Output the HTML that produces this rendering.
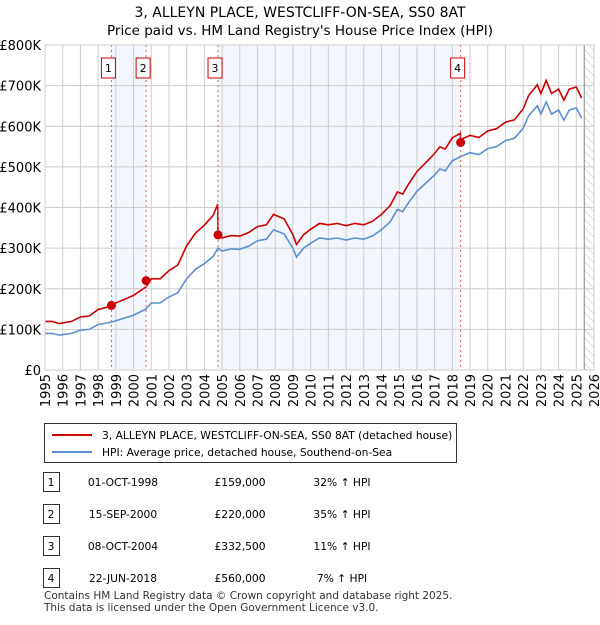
<!DOCTYPE html>
<html><head><meta charset="utf-8"><style>
body{margin:0;background:#fff;font-family:"Liberation Sans","DejaVu Sans",sans-serif;}
svg text{font-family:"DejaVu Sans","Liberation Sans",sans-serif;}
</style></head><body>
<svg id="c" width="600" height="620" xmlns="http://www.w3.org/2000/svg">
<defs><pattern id="hatch" width="6" height="6" patternUnits="userSpaceOnUse" patternTransform="rotate(-45)"><line x1="0" y1="0" x2="0" y2="6" stroke="#bbb" stroke-width="1"/></pattern></defs>
<text x="300" y="17" text-anchor="middle" font-size="14">3, ALLEYN PLACE, WESTCLIFF-ON-SEA, SS0 8AT</text>
<text x="300" y="35" text-anchor="middle" font-size="13.5">Price paid vs. HM Land Registry's House Price Index (HPI)</text>
<g id="plot"></g>
<g>
<rect x="44.5" y="423.5" width="412" height="39" fill="#fff" stroke="#333"/>
<line x1="52" y1="435" x2="92" y2="435" stroke="#cc0000" stroke-width="2"/>
<text x="102" y="439" font-size="10.7">3, ALLEYN PLACE, WESTCLIFF-ON-SEA, SS0 8AT (detached house)</text>
<line x1="52" y1="452" x2="92" y2="452" stroke="#5b8fd0" stroke-width="2"/>
<text x="102" y="456" font-size="10.7">HPI: Average price, detached house, Southend-on-Sea</text>
</g>
<g id="table" font-size="10.7"></g>
<text x="44" y="599" font-size="10.5" fill="#333">Contains HM Land Registry data © Crown copyright and database right 2025.</text>
<text x="44" y="611" font-size="10.5" fill="#333">This data is licensed under the Open Government Licence v3.0.</text>
</svg>
<script>
const hpiDates=[1995,1995.4,1995.8,1996.5,1997,1997.5,1998,1998.75,1999.5,2000,2000.7,2001,2001.5,2002,2002.5,2003,2003.5,2004,2004.5,2004.77,2005,2005.5,2006,2006.5,2007,2007.5,2007.9,2008.5,2009,2009.2,2009.6,2010,2010.5,2011,2011.5,2012,2012.5,2013,2013.5,2014,2014.5,2014.9,2015.2,2015.5,2016,2016.5,2017,2017.3,2017.6,2018,2018.47,2019,2019.5,2020,2020.5,2021,2021.5,2022,2022.3,2022.8,2023,2023.3,2023.6,2024,2024.3,2024.6,2025,2025.3];
const hpiValues=[90,90,86,90,98,100,112,118,128,135,150,165,165,180,190,225,248,262,280,300,293,298,297,305,318,322,345,335,300,278,300,312,325,322,325,320,325,322,330,345,365,395,390,410,440,460,480,495,490,515,525,535,530,545,550,565,570,595,625,650,630,660,630,640,615,640,645,620];
const saleDates=[1998.75,2000.71,2004.77,2018.47];
const saleLabels=["1","2","3","4"];
const salePrices=[159000,220000,332500,560000];
const saleDateText=["01-OCT-1998","15-SEP-2000","08-OCT-2004","22-JUN-2018"];
const salePriceText=["£159,000","£220,000","£332,500","£560,000"];
const salePctText=["32% ↑ HPI","35% ↑ HPI","11% ↑ HPI","7% ↑ HPI"];
const segRatios=[1.33,1.36,1.36,1.11,1.08];
const yTicks=[0,100,200,300,400,500,600,700,800];
const yTickLabels=["£0","£100K","£200K","£300K","£400K","£500K","£600K","£700K","£800K"];
const xYears=[1995,1996,1997,1998,1999,2000,2001,2002,2003,2004,2005,2006,2007,2008,2009,2010,2011,2012,2013,2014,2015,2016,2017,2018,2019,2020,2021,2022,2023,2024,2025,2026];

const L=45,R=594,T=45,B=370;
const X=t=>L+(t-1995)*(R-L)/31;
const Y=v=>B-v*(B-T)/800;
const NS="http://www.w3.org/2000/svg";
const plot=document.getElementById('plot');
function mk(tag,at,parent){const e=document.createElementNS(NS,tag);for(const k in at)e.setAttribute(k,at[k]);(parent||plot).appendChild(e);return e;}

let e=mk('rect',{x:X(saleDates[0]),y:T,width:X(saleDates[1])-X(saleDates[0]),height:B-T,fill:'#eef3fc',opacity:0.7});


e=mk('rect',{x:X(saleDates[2]),y:T,width:X(saleDates[3])-X(saleDates[2]),height:B-T,fill:'#eef3fc',opacity:0.7});


e=mk('rect',{x:X(2025.45),y:T,width:R-X(2025.45),height:B-T,fill:'url(#hatch)'});



yTicks.forEach((v,i)=>{
  let g=mk('line',{x1:L,x2:R,y1:Y(v),y2:Y(v),stroke:'#ccc'});
  
  
  let t=mk('text',{x:L-4,y:Y(v)+5,'text-anchor':'end','font-size':13});
  t.textContent=yTickLabels[i];
  
  
});
xYears.forEach(yr=>{
  let g=mk('line',{x1:X(yr),x2:X(yr),y1:T,y2:B,stroke:'#ccc'});
  
  
  let t=mk('text',{x:0,y:0,'text-anchor':'end','font-size':13,transform:`translate(${X(yr)+5},${B+4}) rotate(-90)`});
  t.textContent=yr;
  
  
});
e=mk('line',{x1:X(2025.45),x2:X(2025.45),y1:T,y2:B,stroke:'#888'});



function ratioAt(t){let s=0;while(s<saleDates.length&&t>=saleDates[s]-0.001)s++;return segRatios[s];}
let pb='',pr='';
hpiDates.forEach((t,i)=>{pb+=(i?'L':'M')+X(t).toFixed(1)+','+Y(hpiValues[i]).toFixed(1);});
let pts=[];
hpiDates.forEach((t,i)=>{pts.push([t,hpiValues[i]*ratioAt(t)]);});
const prePts=[];
pts.forEach((p,i)=>{
  saleDates.forEach((sd,k)=>{if(Math.abs(p[0]-sd)<0.02&&i>0){prePts.push([i,[sd-0.02,hpiValues[i]*segRatios[k]]]);}});
});
prePts.reverse().forEach(([i,p])=>pts.splice(i,0,p));
pts.forEach((p,i)=>{pr+=(i?'L':'M')+X(p[0]).toFixed(1)+','+Y(p[1]).toFixed(1);});
e=mk('path',{d:pb,fill:'none',stroke:'#5b8fd0','stroke-width':1.6});


e=mk('path',{d:pr,fill:'none',stroke:'#cc0000','stroke-width':1.6});



saleDates.forEach((sd,i)=>{
  let l=mk('line',{x1:X(sd),x2:X(sd),y1:T,y2:B,stroke:'#e06060','stroke-dasharray':'2,3'});
  
  
  let c=mk('circle',{cx:X(sd),cy:Y(salePrices[i]/1000),r:4.5,fill:'#cc0000'});
  
  
  let b=mk('rect',{x:X(sd)-10,y:58,width:14,height:20,fill:'#fff',stroke:'#cc0000'});
  
  
  let t=mk('text',{x:X(sd)-3,y:72,'text-anchor':'middle','font-size':11});
  t.textContent=saleLabels[i];
  
  
});
e=mk('rect',{x:L,y:T,width:R-L,height:B-T,fill:'none',stroke:'#ccc'});

const tbl=document.getElementById('table');
saleLabels.forEach((lab,i)=>{
  const y=486+i*32;
  let b=mk('rect',{x:43.5,y:y-13.5,width:16,height:19,fill:'#fff',stroke:'#333'},tbl);
  
  
  const cells=[[51,lab],[123,saleDateText[i]],[240,salePriceText[i]],[342,salePctText[i]]];
  cells.forEach(([x,s])=>{
    let t=mk('text',{x:x,y:y,'text-anchor':'middle'},tbl);
    t.textContent=s;
    
    
  });
});
</script>
</body></html>
